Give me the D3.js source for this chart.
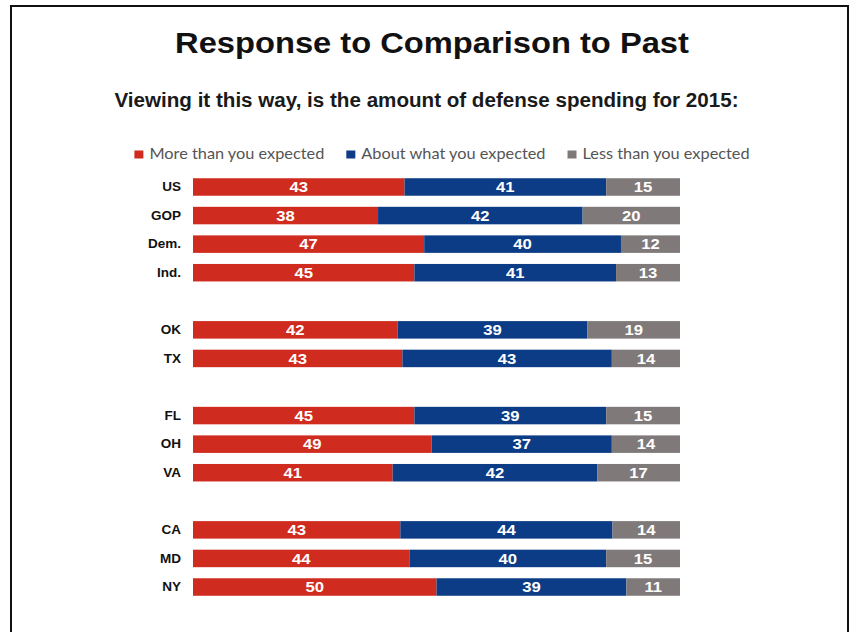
<!DOCTYPE html>
<html>
<head>
<meta charset="utf-8">
<script src="https://cdn.jsdelivr.net/npm/d3@7"></script>
<style>
  html, body { margin: 0; padding: 0; background: #fff; }
  svg { display: block; }
</style>
</head>
<body>
<svg id="chart" width="855" height="632"></svg>
<script>
// Survey groups, drawn top to bottom with a blank row between groups
const groups = [
  ["US", "GOP", "Dem.", "Ind."],
  ["OK", "TX"],
  ["FL", "OH", "VA"],
  ["CA", "MD", "NY"]
];
const categories = groups.flat();

// Percent answering each option, in the order of `categories`
const moreThanExpected  = [43, 38, 47, 45, 42, 43, 45, 49, 41, 43, 44, 50];
const aboutAsExpected   = [41, 42, 40, 41, 39, 43, 39, 37, 42, 44, 40, 39];
const lessThanExpected  = [15, 20, 12, 13, 19, 14, 15, 14, 17, 14, 15, 11];

const seriesNames = ["More than you expected", "About what you expected", "Less than you expected"];
const seriesKeys = ["more", "about", "less"];
const colors = ["#d02b1f", "#0c3c85", "#7f7979"];

const title = "Response to Comparison to Past";
const subtitle = "Viewing it this way, is the amount of defense spending for 2015:";

const rows = categories.map((c, i) => ({
  cat: c,
  more: moreThanExpected[i],
  about: aboutAsExpected[i],
  less: lessThanExpected[i]
}));

// Band domain with spacer slots between groups
const domain = [];
groups.forEach((g, gi) => {
  if (gi > 0) domain.push("__gap" + gi);
  g.forEach(c => domain.push(c));
});

const ARIAL = "Liberation Sans, Arial, sans-serif";
const svg = d3.select("#chart");

// Text drawn with a slight horizontal stretch
function wideText(parent, x, y, sx, anchor) {
  return parent.append("text")
    .attr("transform", `translate(${x},${y}) scale(${sx},1)`)
    .attr("text-anchor", anchor);
}

// Frame
svg.append("rect")
  .attr("x", 11).attr("y", 6)
  .attr("width", 837).attr("height", 660)
  .attr("fill", "none")
  .attr("stroke", "#111")
  .attr("stroke-width", 2);

// Titles
wideText(svg, 432, 53, 1.09, "middle")
  .attr("font-family", ARIAL)
  .attr("font-weight", "bold")
  .attr("font-size", 30)
  .attr("fill", "#111")
  .text(title);

wideText(svg, 426.5, 107, 1.03, "middle")
  .attr("font-family", ARIAL)
  .attr("font-weight", "bold")
  .attr("font-size", 20)
  .attr("fill", "#1a1a1a")
  .text(subtitle);

// Scales
const y = d3.scaleBand()
  .domain(domain)
  .range([172.7, 601.3])
  .paddingInner(0.3875)
  .paddingOuter(0.3875 / 2);

const x = d3.scaleLinear().domain([0, 1]).range([193, 680]);

const stack = d3.stack().keys(seriesKeys).offset(d3.stackOffsetExpand);
const stacked = stack(rows);

// Bars
const layers = svg.append("g").selectAll("g")
  .data(stacked)
  .join("g")
  .attr("fill", (d, i) => colors[i]);

layers.selectAll("rect")
  .data(d => d.map(s => ({ s, key: d.key })))
  .join("rect")
  .attr("x", d => x(d.s[0]))
  .attr("y", d => y(d.s.data.cat))
  .attr("width", d => x(d.s[1]) - x(d.s[0]))
  .attr("height", y.bandwidth());

// Value labels
layers.selectAll("text")
  .data(d => d.map(s => ({ s, key: d.key })))
  .join("text")
  .attr("transform", d =>
    `translate(${(x(d.s[0]) + x(d.s[1])) / 2},${y(d.s.data.cat) + y.bandwidth() / 2}) scale(1.15,1)`)
  .attr("dy", "0.36em")
  .attr("text-anchor", "middle")
  .attr("font-family", ARIAL)
  .attr("font-weight", "bold")
  .attr("font-size", 14.5)
  .attr("fill", "#fff")
  .text(d => d.s.data[d.key]);

// Category axis
const yAxis = d3.axisLeft(y)
  .tickValues(categories)
  .tickSize(0)
  .tickPadding(0);

const axisG = svg.append("g")
  .attr("transform", `translate(181,0)`)
  .call(yAxis);
axisG.select(".domain").remove();
axisG.selectAll("text")
  .attr("font-family", ARIAL)
  .attr("font-weight", "bold")
  .attr("font-size", 13.5)
  .attr("fill", "#111");

// Legend
const LEG_SX = 1.02;
const LEG_GAP = 22;
const legend = svg.append("g").attr("font-family", "Lato, Carlito, sans-serif");
const items = legend.selectAll("g")
  .data(seriesNames)
  .join("g");
items.append("rect")
  .attr("width", 9).attr("height", 8)
  .attr("y", -8.5)
  .attr("fill", (d, i) => colors[i]);
items.append("text")
  .attr("transform", `translate(15,0) scale(${LEG_SX},1)`)
  .attr("font-size", 16)
  .attr("fill", "#555")
  .text(d => d);

let cursor = 0;
const offsets = [];
items.each(function () {
  const w = d3.select(this).select("text").node().getComputedTextLength() * LEG_SX;
  offsets.push(cursor);
  cursor += 15 + w + LEG_GAP;
});
const totalW = cursor - LEG_GAP;
const startX = 442 - totalW / 2;
items.attr("transform", (d, i) => `translate(${startX + offsets[i]},159)`);
</script>
</body>
</html>
